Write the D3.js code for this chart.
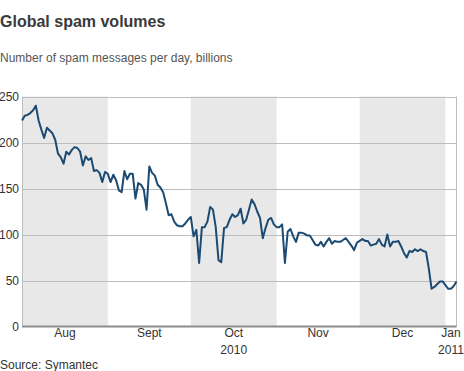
<!DOCTYPE html>
<html>
<head>
<meta charset="utf-8">
<script src="https://cdn.jsdelivr.net/npm/d3@7"></script>
<style>
    body { margin: 0; background: #fff; }
    text { font-family: "Liberation Sans", Arial, sans-serif; }
</style>
</head>
<body>
<div id="chart"></div>
<script>
// Daily spam volume, billions of messages, starting 1 Aug 2010
var startDate = new Date(2010, 7, 1);
var endDate = new Date(2011, 0, 5);
var spam = [
    224, 229, 230, 232, 235, 240, 224, 214, 205, 216, 213, 210, 203, 188, 184, 177, 190, 187, 192, 195,
    194, 190, 175, 185, 181, 183, 169, 170, 167, 157, 168, 166, 157, 165, 159, 148, 146, 169, 160, 166,
    166, 139, 156, 154, 149, 127, 174, 167, 164, 154, 151, 146, 134, 121, 122, 114, 110, 109, 109, 112,
    116, 119, 98, 105, 69, 108, 108, 114, 130, 127, 108, 72, 70, 107, 108, 116, 122, 119, 121, 128,
    112, 116, 127, 138, 133, 125, 118, 96, 107, 116, 118, 111, 108, 108, 111, 69, 103, 106, 98, 92,
    102, 102, 101, 99, 99, 94, 89, 88, 92, 87, 92, 96, 90, 93, 92, 92, 94, 96, 92, 88,
    83, 91, 93, 95, 93, 93, 88, 89, 90, 95, 89, 87, 100, 87, 92, 92, 93, 87, 80, 75,
    82, 81, 84, 82, 84, 82, 81, 63, 41, 43, 46, 49, 49, 45, 41, 41, 44, 49
];
var monthNames = ["Aug", "Sept", "Oct", "Nov", "Dec", "Jan"];
var yearNames = ["", "", "2010", "", "", "2011"];
var shadedMonths = ["Aug", "Oct", "Dec"];
var yTicks = [0, 50, 100, 150, 200, 250];

function init(){
    var w = 464;
    var h = 371;
    var left = 22, right = 456.5, top = 96.5, bottom = 326.5;

    var svg = d3.select("#chart")
                .append("svg")
                .attr("width", w)
                .attr("height", h);

    var xScale = d3.scaleTime()
                    .domain([startDate, endDate])
                    .range([left, right]);

    var yScale = d3.scaleLinear()
                    .domain([0, 250])
                    .range([bottom, top]);

    // one entry per month, clipped to the chart range
    var months = d3.timeMonth.range(d3.timeMonth.floor(startDate), endDate).map(function(m, i){
        var a = m < startDate ? startDate : m;
        var b = d3.timeMonth.offset(m, 1);
        if (b > endDate) b = endDate;
        return {name: monthNames[i], year: yearNames[i], start: a, end: b};
    });

    // grey bands for alternate months
    svg.selectAll("rect.band")
        .data(months.filter(function(d){ return shadedMonths.indexOf(d.name) >= 0; }))
        .enter()
        .append("rect")
        .attr("class", "band")
        .attr("x", function(d){ return xScale(d.start); })
        .attr("y", top)
        .attr("width", function(d){ return xScale(d.end) - xScale(d.start); })
        .attr("height", bottom - top)
        .attr("fill", "#e8e8e8");

    // horizontal gridlines
    svg.selectAll("line.grid")
        .data(yTicks.filter(function(d){ return d > 0; }))
        .enter()
        .append("line")
        .attr("class", "grid")
        .attr("x1", left)
        .attr("x2", right)
        .attr("y1", function(d){ return Math.round(yScale(d)) + 0.5; })
        .attr("y2", function(d){ return Math.round(yScale(d)) + 0.5; })
        .attr("stroke", "#bdbdbd")
        .attr("stroke-width", 1);

    // side borders
    svg.append("line")
        .attr("x1", left + 0.5).attr("x2", left + 0.5)
        .attr("y1", top).attr("y2", bottom)
        .attr("stroke", "#bdbdbd");
    svg.append("line")
        .attr("x1", right).attr("x2", right)
        .attr("y1", top).attr("y2", bottom)
        .attr("stroke", "#bdbdbd");

    // y tick labels
    svg.selectAll("text.ytick")
        .data(yTicks)
        .enter()
        .append("text")
        .attr("class", "ytick")
        .text(function(d){ return d; })
        .attr("x", 19)
        .attr("y", function(d){ return yScale(d); })
        .attr("dy", "0.36em")
        .attr("text-anchor", "end")
        .attr("font-size", "12px")
        .attr("fill", "#333");

    // the spam line
    var line = d3.line()
                .x(function(d, i){ return xScale(d3.timeDay.offset(startDate, i)); })
                .y(function(d){ return yScale(d); });

    svg.append("path")
        .datum(spam)
        .attr("d", line)
        .attr("fill", "none")
        .attr("stroke", "#1b4a72")
        .attr("stroke-width", 2)
        .attr("stroke-linejoin", "round");

    // zero axis
    svg.append("line")
        .attr("x1", left).attr("x2", right)
        .attr("y1", bottom).attr("y2", bottom)
        .attr("stroke", "#8c8c8c")
        .attr("stroke-width", 2);

    // month and year labels, centred in each month
    svg.selectAll("text.month")
        .data(months)
        .enter()
        .append("text")
        .attr("class", "month")
        .text(function(d){ return d.name; })
        .attr("x", function(d){ return (xScale(d.start) + xScale(d.end)) / 2; })
        .attr("y", 337)
        .attr("text-anchor", "middle")
        .attr("font-size", "12px")
        .attr("fill", "#333");

    svg.selectAll("text.year")
        .data(months.filter(function(d){ return d.year; }))
        .enter()
        .append("text")
        .attr("class", "year")
        .text(function(d){ return d.year; })
        .attr("x", function(d){ return (xScale(d.start) + xScale(d.end)) / 2; })
        .attr("y", 354)
        .attr("text-anchor", "middle")
        .attr("font-size", "12px")
        .attr("fill", "#333");

    // titles
    svg.append("text")
        .text("Global spam volumes")
        .attr("x", 0)
        .attr("y", 27)
        .attr("font-size", "16px")
        .attr("font-weight", "bold")
        .attr("fill", "#3a3a3a");

    svg.append("text")
        .text("Number of spam messages per day, billions")
        .attr("x", 0)
        .attr("y", 62)
        .attr("font-size", "12px")
        .attr("fill", "#555");

    svg.append("text")
        .text("Source: Symantec")
        .attr("x", 0)
        .attr("y", 369)
        .attr("font-size", "12px")
        .attr("fill", "#333");
}
window.onload = init;
</script>
</body>
</html>
